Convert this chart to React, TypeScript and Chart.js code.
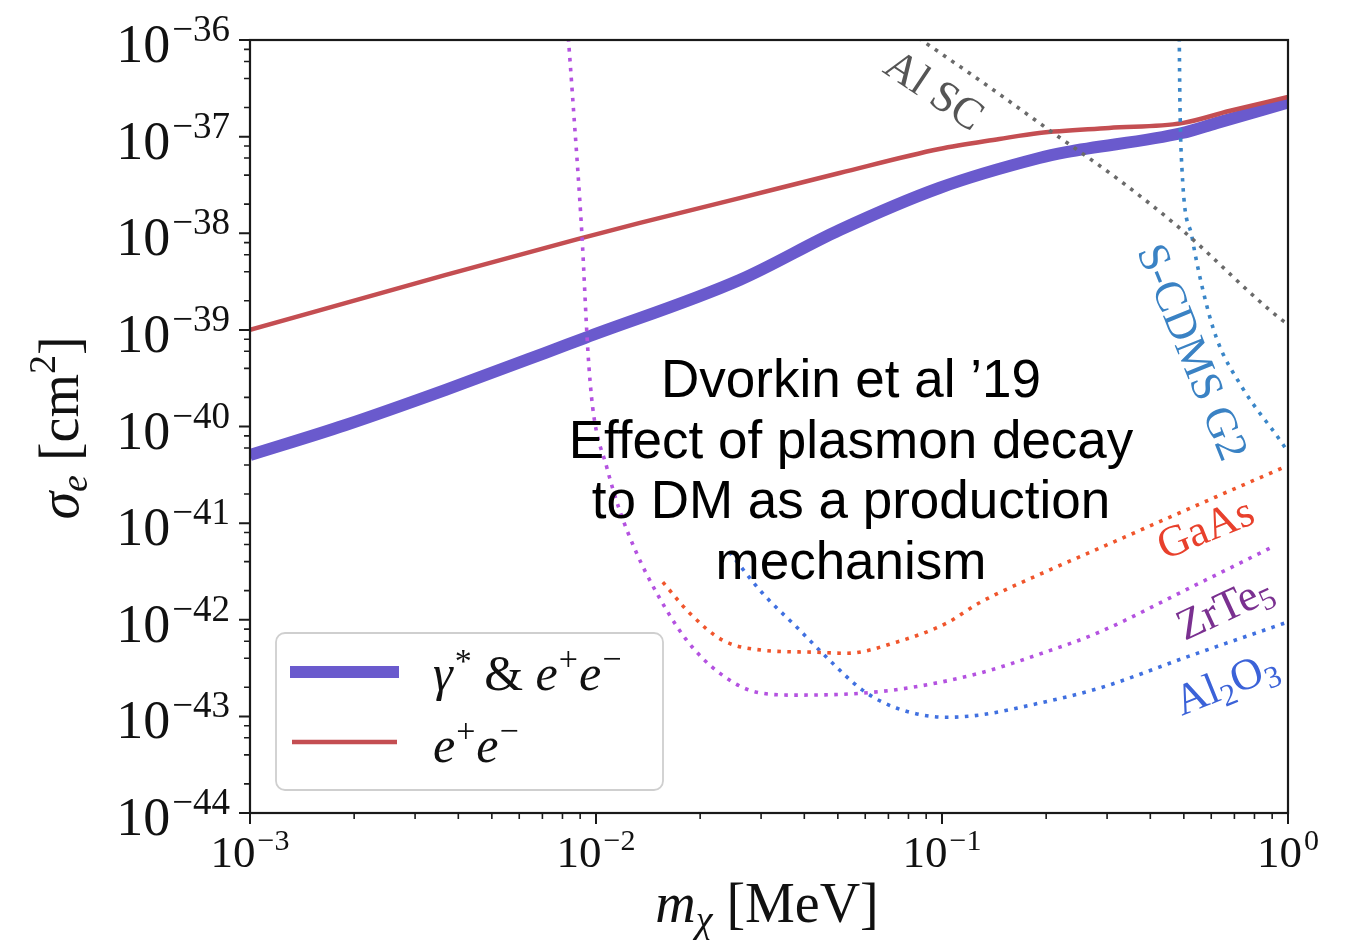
import React, { useEffect, useRef } from 'react';
import { Chart, registerables } from 'chart.js';

Chart.register(...registerables);

const W = 1348;
const H = 943;

// ---- axis ranges & ticks ----
const X_MIN = 1e-3;
const X_MAX = 1;
const Y_MIN = 1e-44;
const Y_MAX = 1e-36;
const xMajorExp = [-3, -2, -1, 0];
const yMajorExp = [-44, -43, -42, -41, -40, -39, -38, -37, -36];
const xMinorMult = [2, 3, 4, 5, 6, 7, 8, 9];
const yMinorMult = [2, 4, 6, 8];

// ---- data: m_chi [MeV] vs sigma_e [cm^2] ----
const gammaX = [0.001, 0.00188, 0.00366, 0.00711, 0.00927, 0.026, 0.0506, 0.0982, 0.191, 0.2285, 0.494, 0.62, 1.0];
const gammaY = [5.06e-41, 1.03e-40, 2.38e-40, 5.75e-40, 8.23e-40, 3.28e-39, 1.08e-38, 2.94e-38, 6.0e-38, 6.9e-38, 1.09e-37, 1.38e-37, 2.25e-37];

const eeX = [0.001, 0.00366, 0.00885, 0.0134, 0.026, 0.0506, 0.0982, 0.1465, 0.191, 0.304, 0.494, 0.676, 1.0];
const eeY = [1.0e-39, 3.69e-39, 8.7e-39, 1.28e-38, 2.31e-38, 4.2e-38, 7.45e-38, 9.45e-38, 1.09e-37, 1.23e-37, 1.38e-37, 1.84e-37, 2.57e-37];

const alscX = [0.0855, 0.137, 0.204, 0.325, 0.494, 0.962, 1.0];
const alscY = [1.05e-36, 3.26e-37, 1.17e-37, 3.56e-38, 1.08e-38, 1.26e-39, 1.15e-39];

const scdmsX = [0.485, 0.487, 0.494, 0.528, 0.565, 0.62, 0.736, 0.962, 1.0];
const scdmsY = [1.05e-36, 2.4e-37, 4.5e-38, 9.1e-39, 2.77e-39, 8.4e-40, 2.56e-40, 6.7e-41, 5.4e-41];

const zrte5X = [0.00832, 0.00857, 0.0091, 0.00947, 0.00978, 0.01074, 0.0117, 0.0131, 0.01497, 0.01828, 0.02277, 0.0291, 0.038, 0.0589, 0.0822, 0.1283, 0.191, 0.285, 0.518, 0.9];
const zrte5Y = [1.05e-36, 2.4e-37, 1.0e-38, 6.2e-40, 1.58e-40, 3.8e-41, 1.36e-41, 4.9e-42, 1.9e-42, 6.15e-43, 2.8e-43, 1.78e-43, 1.66e-43, 1.74e-43, 2.0e-43, 2.8e-43, 4.4e-43, 7.45e-43, 2.12e-42, 5.65e-42];

const gaasX = [0.0156, 0.01866, 0.0232, 0.0303, 0.0422, 0.053, 0.0738, 0.103, 0.128, 0.204, 0.285, 0.554, 0.99];
const gaasY = [2.45e-42, 1.17e-42, 6.15e-43, 4.84e-43, 4.62e-43, 4.5e-43, 5.86e-43, 9.2e-43, 1.49e-42, 3.26e-42, 5.5e-42, 1.57e-41, 3.89e-41];

const al2o3X = [0.0243, 0.0303, 0.038, 0.0473, 0.0589, 0.0738, 0.103, 0.128, 0.191, 0.285, 0.518, 0.975];
const al2o3Y = [5.0e-42, 1.88e-42, 8.4e-43, 3.82e-43, 1.87e-43, 1.22e-43, 9.8e-44, 1.03e-43, 1.37e-43, 1.96e-43, 4.2e-43, 9.2e-43];

const zip = (xs: number[], ys: number[]) => xs.map((x, i) => ({ x, y: ys[i] }));

// ---- text ----
type Part = { t: string; size: number; dy?: number; italic?: boolean; dx?: number };
const SERIF = '"Liberation Serif", "DejaVu Serif", serif';
const SANS = '"Liberation Sans", Arial, sans-serif';

const annotationLines = ['Dvorkin et al \u201919', 'Effect of plasmon decay', 'to DM as a production', 'mechanism'];

const curveLabels: { parts: Part[]; x: number; y: number; angle: number; color: string }[] = [
  { parts: [{ t: 'Al SC', size: 44 }], x: 0.095, y: 3.03e-37, angle: 34, color: '#555555' },
  { parts: [{ t: 'S-CDMS G2', size: 44 }], x: 0.53, y: 5.9e-40, angle: 68, color: '#3a82c4' },
  { parts: [{ t: 'GaAs', size: 44 }], x: 0.577, y: 8.87e-42, angle: -22, color: '#e8402c' },
  { parts: [{ t: 'ZrTe', size: 44 }, { t: '5', size: 31, dy: 7 }], x: 0.655, y: 1.35e-42, angle: -25, color: '#7a3090' },
  { parts: [{ t: 'Al', size: 44 }, { t: '2', size: 31, dy: 8 }, { t: 'O', size: 44 }, { t: '3', size: 31, dy: 8 }], x: 0.662, y: 2.21e-43, angle: -22, color: '#3b62d8' },
];

function fontOf(p: Part, family = SERIF) {
  return `${p.italic ? 'italic ' : ''}${p.size}px ${family}`;
}
function richWidth(ctx: CanvasRenderingContext2D, parts: Part[]) {
  let w = 0;
  for (const p of parts) {
    ctx.font = fontOf(p);
    w += ctx.measureText(p.t).width + (p.dx || 0);
  }
  return w;
}
function drawRich(ctx: CanvasRenderingContext2D, parts: Part[], x: number, y: number, align: 'left' | 'center' | 'right') {
  const w = richWidth(ctx, parts);
  let cx = align === 'left' ? x : align === 'center' ? x - w / 2 : x - w;
  ctx.textAlign = 'left';
  ctx.textBaseline = 'alphabetic';
  for (const p of parts) {
    ctx.font = fontOf(p);
    cx += p.dx || 0;
    ctx.fillText(p.t, cx, y + (p.dy || 0));
    cx += ctx.measureText(p.t).width;
  }
}

const decorPlugin = {
  id: 'decor',
  afterDraw(chart: any) {
    const ctx: CanvasRenderingContext2D = chart.ctx;
    const { left, right, top, bottom } = chart.chartArea;
    const xs = chart.scales.x;
    const ys = chart.scales.y;
    ctx.save();

    // spines
    ctx.strokeStyle = '#1a1a1a';
    ctx.lineWidth = 2.2;
    ctx.strokeRect(left, top, right - left, bottom - top);

    // ticks
    ctx.lineWidth = 2;
    ctx.beginPath();
    for (const e of yMajorExp) {
      const py = ys.getPixelForValue(Math.pow(10, e));
      ctx.moveTo(left - 11, py);
      ctx.lineTo(left, py);
    }
    for (const e of xMajorExp) {
      const px = xs.getPixelForValue(Math.pow(10, e));
      ctx.moveTo(px, bottom);
      ctx.lineTo(px, bottom + 11);
    }
    ctx.stroke();
    ctx.lineWidth = 1.6;
    ctx.beginPath();
    for (const e of yMajorExp.slice(0, -1)) {
      for (const m of yMinorMult) {
        const py = ys.getPixelForValue(m * Math.pow(10, e));
        ctx.moveTo(left - 6, py);
        ctx.lineTo(left, py);
      }
    }
    for (const e of xMajorExp.slice(0, -1)) {
      for (const m of xMinorMult) {
        const px = xs.getPixelForValue(m * Math.pow(10, e));
        ctx.moveTo(px, bottom);
        ctx.lineTo(px, bottom + 6);
      }
    }
    ctx.stroke();

    // tick labels
    ctx.fillStyle = '#111111';
    for (const e of yMajorExp) {
      const py = ys.getPixelForValue(Math.pow(10, e));
      drawRich(ctx, [{ t: '10', size: 54 }, { t: '\u2212' + Math.abs(e), size: 37, dy: -21, dx: 2 }], left - 20, py + 22, 'right');
    }
    for (const e of xMajorExp) {
      const px = xs.getPixelForValue(Math.pow(10, e));
      const ex = e < 0 ? '\u2212' + Math.abs(e) : String(e);
      drawRich(ctx, [{ t: '10', size: 45 }, { t: ex, size: 30, dy: -17, dx: 2 }], px, bottom + 54, 'center');
    }

    // axis titles
    drawRich(ctx, [{ t: 'm', size: 56, italic: true }, { t: '\u03c7', size: 38, italic: true, dy: 10 }, { t: ' [MeV]', size: 56 }], (left + right) / 2 - 2, 922, 'center');
    ctx.save();
    ctx.translate(78, 428);
    ctx.rotate(-Math.PI / 2);
    drawRich(ctx, [{ t: '\u03c3', size: 56, italic: true }, { t: 'e', size: 38, italic: true, dy: 9 }, { t: ' [cm', size: 56 }, { t: '2', size: 38, dy: -23 }, { t: ']', size: 56 }], 0, 0, 'center');
    ctx.restore();

    // curve labels
    for (const lb of curveLabels) {
      const px = xs.getPixelForValue(lb.x);
      const py = ys.getPixelForValue(lb.y);
      ctx.save();
      ctx.translate(px, py);
      ctx.rotate((lb.angle * Math.PI) / 180);
      ctx.fillStyle = lb.color;
      drawRich(ctx, lb.parts, 0, 14, 'center');
      ctx.restore();
    }

    // annotation
    ctx.fillStyle = '#000000';
    ctx.font = `53px ${SANS}`;
    ctx.textAlign = 'center';
    ctx.textBaseline = 'alphabetic';
    const base = [397, 458, 518, 579];
    annotationLines.forEach((line, i) => ctx.fillText(line, 851, base[i]));

    // legend
    const ds = chart.data.datasets;
    const gam = ds.find((d: any) => d.label === 'gamma');
    const ee = ds.find((d: any) => d.label === 'ee');
    ctx.beginPath();
    (ctx as any).roundRect(276, 633, 387, 157, 9);
    ctx.fillStyle = 'rgba(255,255,255,0.85)';
    ctx.fill();
    ctx.strokeStyle = '#cfcfcf';
    ctx.lineWidth = 1.8;
    ctx.stroke();
    ctx.lineCap = 'butt';
    ctx.strokeStyle = gam.borderColor;
    ctx.lineWidth = gam.borderWidth;
    ctx.beginPath();
    ctx.moveTo(290, 672);
    ctx.lineTo(399, 672);
    ctx.stroke();
    ctx.strokeStyle = ee.borderColor;
    ctx.lineWidth = ee.borderWidth;
    ctx.beginPath();
    ctx.moveTo(292, 742);
    ctx.lineTo(397, 742);
    ctx.stroke();
    ctx.fillStyle = '#111111';
    drawRich(ctx, [
      { t: '\u03b3', size: 50, italic: true },
      { t: '*', size: 34, dy: -18, dx: 2 },
      { t: ' & ', size: 50 },
      { t: 'e', size: 50, italic: true },
      { t: '+', size: 34, dy: -20, dx: 1 },
      { t: 'e', size: 50, italic: true, dx: 1 },
      { t: '\u2212', size: 34, dy: -20, dx: 1 },
    ], 433, 690, 'left');
    drawRich(ctx, [
      { t: 'e', size: 50, italic: true },
      { t: '+', size: 34, dy: -20, dx: 1 },
      { t: 'e', size: 50, italic: true, dx: 1 },
      { t: '\u2212', size: 34, dy: -20, dx: 1 },
    ], 433, 762, 'left');

    ctx.restore();
  },
};

const dotted = (label: string, data: any[], color: string) => ({
  label,
  data,
  borderColor: color,
  borderWidth: 3.6,
  borderDash: [3.6, 6.4],
  pointRadius: 0,
  fill: false,
  cubicInterpolationMode: 'monotone',
  clip: 0,
});

const solid = (label: string, data: any[], color: string, width: number) => ({
  label,
  data,
  borderColor: color,
  borderWidth: width,
  pointRadius: 0,
  fill: false,
  cubicInterpolationMode: 'monotone',
  clip: 0,
});

export default function App() {
  const ref = useRef<HTMLCanvasElement | null>(null);
  useEffect(() => {
    if (!ref.current) return;
    const chart = new Chart(ref.current, {
      type: 'line',
      data: {
        datasets: [
          dotted('alsc', zip(alscX, alscY), '#6a6a6a'),
          dotted('scdms', zip(scdmsX, scdmsY), '#3a86c8'),
          dotted('zrte5', zip(zrte5X, zrte5Y), '#b452e0'),
          dotted('gaas', zip(gaasX, gaasY), '#f0552c'),
          dotted('al2o3', zip(al2o3X, al2o3Y), '#4070e0'),
          solid('ee', zip(eeX, eeY), '#c44e52', 4.5),
          solid('gamma', zip(gammaX, gammaY), '#6a5acd', 12),
        ],
      },
      options: {
        animation: false,
        responsive: false,
        events: [],
        layout: { padding: { left: 250, right: 60, top: 40, bottom: 130 } },
        plugins: { legend: { display: false }, tooltip: { enabled: false } },
        scales: {
          x: { type: 'logarithmic', min: X_MIN, max: X_MAX, display: false },
          y: { type: 'logarithmic', min: Y_MIN, max: Y_MAX, display: false },
        },
      },
      plugins: [decorPlugin],
    } as any);
    return () => chart.destroy();
  }, []);
  return (
    <div style={{ position: 'absolute', left: 0, top: 0, width: W, height: H, background: '#ffffff' }}>
      <canvas ref={ref} width={W} height={H} style={{ display: 'block' }} />
    </div>
  );
}
